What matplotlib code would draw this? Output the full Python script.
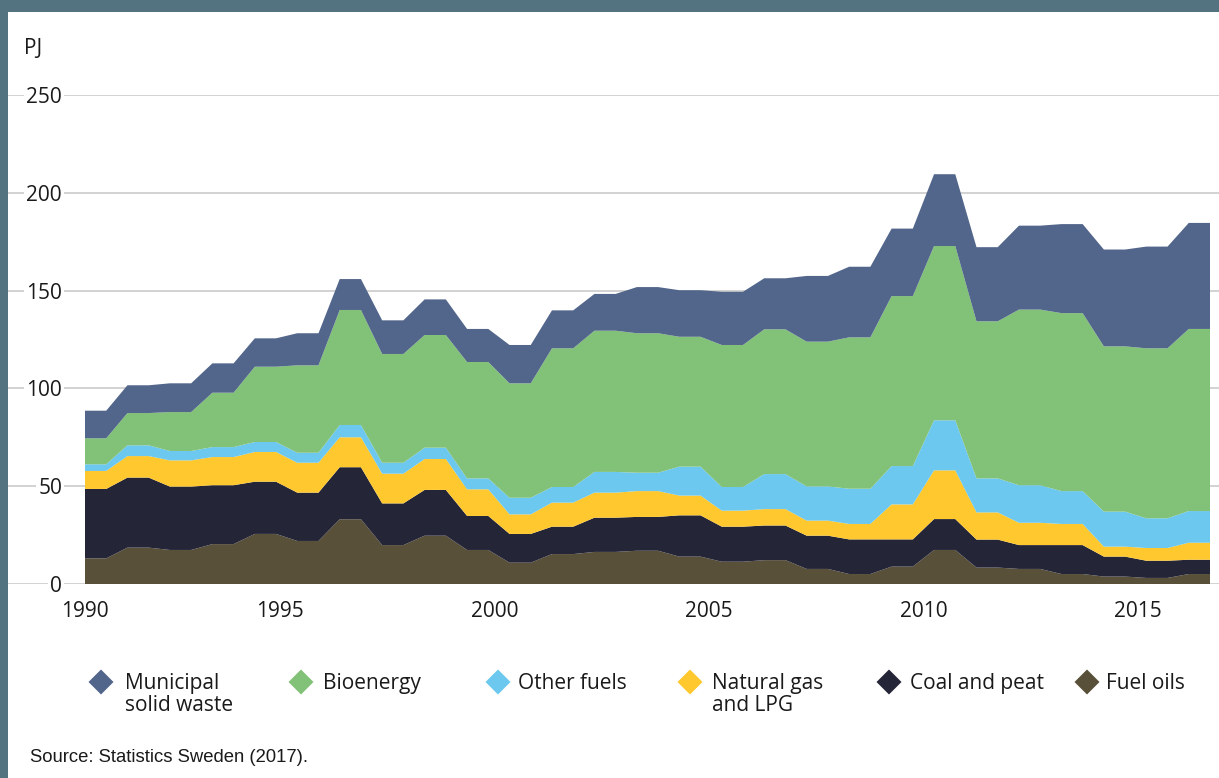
import matplotlib
matplotlib.use("Agg")
import matplotlib.pyplot as plt
import matplotlib.transforms as mtransforms
from matplotlib.patches import Polygon, Rectangle
import numpy as np

# values in PJ, 1990-2016
years = list(range(1990, 2017))
fuel_oils = [13.1, 18.6, 17.4, 20.4, 25.6, 22.0, 33.1, 19.9, 24.7, 17.4, 10.9, 15.3, 16.4, 17.0,
             14.0, 11.4, 12.2, 7.7, 5.1, 8.9, 17.4, 8.4, 7.7, 5.1, 3.8, 3.1, 5.1]
coal_peat = [35.5, 35.8, 32.4, 30.1, 26.7, 24.7, 26.6, 21.3, 23.4, 17.4, 14.7, 14.0, 17.5, 17.3,
             21.1, 17.9, 17.7, 17.0, 17.7, 13.9, 15.8, 14.3, 12.2, 14.8, 10.2, 8.8, 7.3]
nat_gas = [9.2, 11.0, 13.4, 14.4, 15.2, 15.3, 15.3, 15.2, 15.8, 13.6, 10.0, 12.3, 12.8, 13.2,
           10.1, 8.2, 8.4, 7.7, 7.9, 17.9, 24.9, 13.9, 11.4, 10.8, 5.1, 6.5, 8.7]
other_fuels = [3.4, 5.5, 4.8, 5.1, 5.1, 5.1, 6.3, 5.6, 5.8, 5.6, 8.5, 8.0, 10.6, 9.4,
               14.8, 12.1, 17.9, 17.5, 18.0, 19.6, 25.6, 17.4, 19.2, 16.8, 17.9, 15.2, 16.2]
bioenergy = [13.3, 16.5, 19.9, 27.8, 38.5, 44.7, 58.8, 55.6, 57.6, 59.5, 58.5, 70.9, 72.2, 71.3,
             66.4, 72.6, 74.0, 74.0, 77.4, 86.9, 89.1, 80.3, 89.8, 91.0, 84.5, 86.9, 93.1]
msw = [14.1, 14.2, 14.7, 15.0, 14.5, 16.4, 15.8, 17.2, 18.2, 16.9, 19.6, 19.4, 18.8, 23.6,
       23.8, 27.2, 26.1, 33.6, 36.1, 34.5, 36.7, 37.9, 42.9, 45.5, 49.5, 52.0, 54.2]

labels = ["Fuel oils", "Coal and peat", "Natural gas\nand LPG", "Other fuels",
          "Bioenergy", "Municipal\nsolid waste"]
colors = ["#59503A", "#252538", "#FFC82E", "#6CC8EE", "#82C178", "#52658A"]
tick_years = [1990, 1995, 2000, 2005, 2010, 2015]
y_ticks = [0, 50, 100, 150, 200, 250]

plt.rcParams['font.family'] = ['Open Sans', 'DejaVu Sans']
W, H = 1219, 778
fig = plt.figure(figsize=(W / 100, H / 100), dpi=100)
fig.patch.set_facecolor("white")

# dark frame on top and left
fig.add_artist(Rectangle((0, 0), 8 / W, 1, transform=fig.transFigure, color="#547380", lw=0))
fig.add_artist(Rectangle((0, 1 - 12 / H), 1, 12 / H, transform=fig.transFigure, color="#547380", lw=0))

ax = fig.add_axes([8 / W, (H - 584) / H, (W - 8) / W, 489 / H])

# each year: flat part then a ramp to the next year
n = len(years)
x = np.ravel([[2 * i, 2 * i + 1] for i in range(n)])
series = [fuel_oils, coal_peat, nat_gas, other_fuels, bioenergy, msw]
ax.stackplot(x, *[np.repeat(s, 2) for s in series], colors=colors, linewidth=0, zorder=2)

px = 1125 / (2 * n - 1)
ax.set_xlim(-77 / px, 2 * n - 1 + 9 / px)
ax.set_ylim(0, 250)
for s in ax.spines.values():
    s.set_visible(False)
ax.set_yticks(y_ticks)
ax.set_yticklabels([])
ax.tick_params(axis='y', length=0)
ax.grid(axis='y', color="#cfcfcf", linewidth=1.3, zorder=0)
ax.set_axisbelow(True)

tpos = [max(0, 2.02 * (yr - 1990) - 0.9) for yr in tick_years]
ax.set_xticks(tpos)
ax.set_xticklabels([str(yr) for yr in tick_years], fontsize=15, color="#1a1a1a")
ax.tick_params(axis='x', length=0, pad=12)

ytrans = mtransforms.blended_transform_factory(ax.transAxes, ax.transData)
for v in y_ticks:
    ax.text(54 / (W - 8), v, str(v), transform=ytrans, ha='right', va='center_baseline',
            fontsize=15, color="#1a1a1a", zorder=3,
            bbox=dict(facecolor='white', edgecolor='none', pad=1.5))

fig.text(24 / W, 1 - 48 / H, "PJ", fontsize=15, color="#1a1a1a", va='center', ha='left')

# legend row
legend_pos = [(101, 125), (301, 323), (498, 518), (690, 712), (889, 910), (1087, 1106)]
for (dx, tx), lab, col in zip(legend_pos, labels[::-1], colors[::-1]):
    cy = 682
    hw, hh = 12.5 / W, 12.5 / H
    cxf, cyf = dx / W, 1 - cy / H
    fig.add_artist(Polygon([(cxf - hw, cyf), (cxf, cyf + hh), (cxf + hw, cyf), (cxf, cyf - hh)],
                           closed=True, transform=fig.transFigure, color=col, lw=0))
    for k, line in enumerate(lab.split("\n")):
        fig.text(tx / W, 1 - (689 + 22 * k) / H, line, fontsize=15, color="#1a1a1a",
                 ha='left', va='baseline')

fig.text(30 / W, 1 - 758 / H, "Source: Statistics Sweden (2017).", fontsize=13.3,
         family="Liberation Sans", color="#1a1a1a", ha='left', va='center')

fig.savefig("out.png", dpi=100)
